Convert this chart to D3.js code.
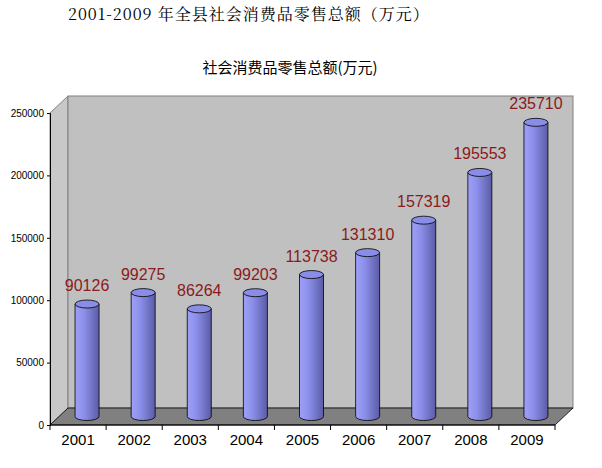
<!DOCTYPE html>
<html lang="zh">
<head>
<meta charset="UTF-8">
<script src="https://d3js.org/d3.v7.min.js"></script>
<style>
  body { margin: 0; background: #fff; }
  .ax text { font: 10px "Liberation Sans Narrow", "Liberation Sans", sans-serif; fill: #000; }
</style>
</head>
<body>
<script>
const years = ["2001", "2002", "2003", "2004", "2005", "2006", "2007", "2008", "2009"];
const sales = [90126, 99275, 86264, 99203, 113738, 131310, 157319, 195553, 235710];
const yTicks = [0, 50000, 100000, 150000, 200000, 250000];

const W = 602, H = 468;
const plotLeft = 50, plotRight = 555, plotTop = 113, plotBottom = 425;
const dx = 18, dy = -17; // depth of the 3D box

const svg = d3.select("body").append("svg").attr("width", W).attr("height", H);

const defs = svg.append("defs");
const grad = defs.append("linearGradient").attr("id", "cyl");
grad.append("stop").attr("offset", "0%").attr("stop-color", "#9da0f5");
grad.append("stop").attr("offset", "35%").attr("stop-color", "#8e91ec");
grad.append("stop").attr("offset", "100%").attr("stop-color", "#5a5ca6");

const x = d3.scaleBand().domain(years).range([plotLeft, plotRight]);
const y = d3.scaleLinear().domain([0, 250000]).range([plotBottom, plotTop]);

// titles
svg.append("text").attr("x", 68).attr("y", 20)
  .style("font", "16px 'Noto Serif CJK SC', 'Noto Sans CJK SC', serif").style("letter-spacing", "1px")
  .text("2001-2009 年全县社会消费品零售总额（万元）");
svg.append("text").attr("x", 290).attr("y", 73).attr("text-anchor", "middle")
  .style("font", "15px 'Noto Sans CJK SC', sans-serif")
  .text("社会消费品零售总额(万元)");

// walls
svg.append("path")
  .attr("d", `M${plotLeft},${y(250000)} L${plotLeft + dx},${y(250000) + dy} L${plotLeft + dx},${plotBottom + dy} L${plotLeft},${plotBottom} Z`)
  .attr("fill", "#c8c8c8").attr("stroke", "#808080");
svg.append("rect").attr("x", plotLeft + dx).attr("y", y(250000) + dy)
  .attr("width", plotRight - plotLeft).attr("height", plotBottom - y(250000))
  .attr("fill", "#c0c0c0").attr("stroke", "#808080");
svg.append("path")
  .attr("d", `M${plotLeft},${plotBottom} L${plotLeft + dx},${plotBottom + dy} L${plotRight + dx},${plotBottom + dy} L${plotRight},${plotBottom} Z`)
  .attr("fill", "#808080").attr("stroke", "#000").attr("stroke-width", 0.8);

// axes
svg.append("g").attr("class", "ax").attr("transform", `translate(${plotLeft},0)`)
  .call(d3.axisLeft(y).tickValues(yTicks).tickSize(3).tickFormat(d3.format("d")))
  .call(g => g.select(".domain").attr("stroke", "#000"));
const xa = svg.append("g").attr("transform", `translate(0,${plotBottom})`);
xa.append("line").attr("x1", plotLeft).attr("x2", plotRight).attr("stroke", "#000");
xa.selectAll("line.tk").data(d3.range(years.length + 1)).join("line").attr("class", "tk")
  .attr("x1", i => plotLeft + i * x.step()).attr("x2", i => plotLeft + i * x.step())
  .attr("y1", 0).attr("y2", 5).attr("stroke", "#000");
xa.selectAll("text").data(years).join("text")
  .attr("x", d => x(d) + x.bandwidth() / 2).attr("y", 20).attr("text-anchor", "middle")
  .style("font", "15px 'Liberation Sans Narrow', 'Liberation Sans', sans-serif")
  .text(d => d);

// cylinders
const bw = 24, rx = bw / 2, ry = 4;
const bx = d => x(d) + x.bandwidth() / 2 + dx / 2;
const bars = svg.append("g").selectAll("g").data(years.map((d, i) => ({ year: d, v: sales[i] }))).join("g");
bars.append("path")
  .attr("d", d => {
    const cx = bx(d.year), y0 = plotBottom + dy / 2, y1 = y(d.v) + dy / 2;
    return `M${cx - rx},${y1} L${cx - rx},${y0} A${rx},${ry} 0 0 0 ${cx + rx},${y0} L${cx + rx},${y1} Z`;
  })
  .attr("fill", "url(#cyl)").attr("stroke", "#000").attr("stroke-width", 0.8);
bars.append("ellipse")
  .attr("cx", d => bx(d.year)).attr("cy", d => y(d.v) + dy / 2)
  .attr("rx", rx).attr("ry", ry)
  .attr("fill", "#8a8de6").attr("stroke", "#000").attr("stroke-width", 0.8);
bars.append("text")
  .attr("x", d => bx(d.year)).attr("y", d => y(d.v) + dy / 2 - 13)
  .attr("text-anchor", "middle").attr("fill", "#8b1a1a")
  .style("font", "16px 'Liberation Sans Narrow', 'Liberation Sans', sans-serif")
  .text(d => d.v);
</script>
</body>
</html>
